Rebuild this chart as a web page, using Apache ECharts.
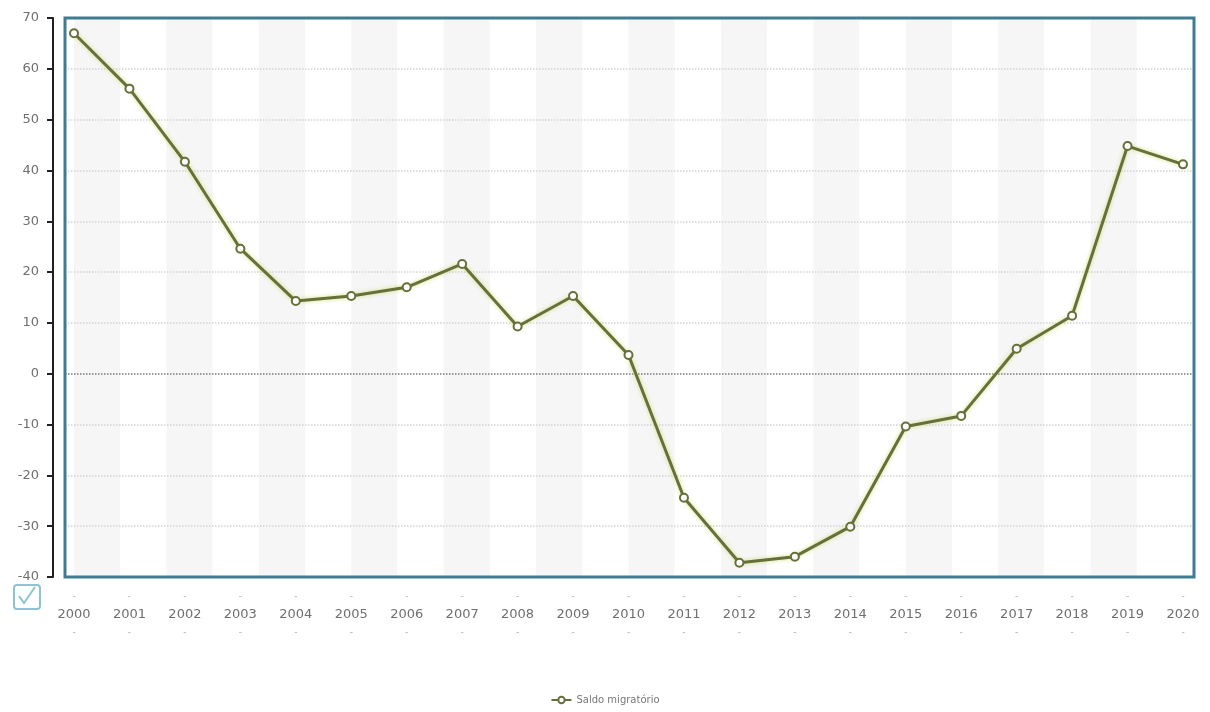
<!DOCTYPE html>
<html>
<head>
<meta charset="utf-8">
<script src="https://cdn.jsdelivr.net/npm/echarts@6/dist/echarts.min.js"></script>
<style>
  html, body { margin: 0; padding: 0; background: #fff; }
  #chart { width: 1210px; height: 712px; }
</style>
</head>
<body>
<div id="chart"></div>
<script>
// dados
const anos = ["2000", "2001", "2002", "2003", "2004", "2005", "2006", "2007", "2008", "2009", "2010",
  "2011", "2012", "2013", "2014", "2015", "2016", "2017", "2018", "2019", "2020"];
const saldoMigratorio = [67.0, 56.1, 41.7, 24.6, 14.3, 15.3, 17.0, 21.6, 9.3, 15.3, 3.7,
  -24.4, -37.2, -36.0, -30.1, -10.4, -8.3, 4.9, 11.4, 44.8, 41.2];
const nomeSerie = "Saldo migratório";
const yMin = -40, yMax = 70, yStep = 10;

const chart = echarts.init(document.getElementById("chart"));

// cor das linhas de grade: a do zero é mais escura
const nLinhas = (yMax - yMin) / yStep + 1;
const coresGrade = [];
for (let i = 0; i < nLinhas; i++) {
  coresGrade.push(yMin + i * yStep === 0 ? "#7a7a7a" : "#d4d4d4");
}

const fonte = "DejaVu Sans";

chart.setOption({
  backgroundColor: "#fff",
  animation: false,
  grid: [
    // moldura + eixo y
    { left: 65, right: 16, top: 18, bottom: 135, show: true, borderColor: "#3f7c92", borderWidth: 3, backgroundColor: "transparent", z: 3 },
    // área da série
    { left: 74, right: 27, top: 18, bottom: 135 }
  ],
  xAxis: [
    { gridIndex: 0, type: "category", data: anos, show: false },
    {
      gridIndex: 1, type: "category", data: anos, boundaryGap: false,
      axisLine: { show: false }, axisTick: { show: false }, splitLine: { show: false },
      axisLabel: {
        interval: 0,
        margin: 11,
        formatter: v => "{d|-}\n{y|" + v + "}\n{d|-}",
        rich: {
          y: { color: "#6f6f6f", fontSize: 13, fontFamily: fonte, lineHeight: 18 },
          d: { color: "#aaa", fontSize: 9, fontFamily: fonte, lineHeight: 18 }
        }
      }
    },
    // faixas cinza do fundo
    {
      gridIndex: 1, type: "value", min: 0, max: 24, interval: 1, z: 0,
      axisLine: { show: false }, axisTick: { show: false }, axisLabel: { show: false },
      splitLine: { show: false },
      splitArea: { show: true, areaStyle: { color: ["#f6f6f6", "#ffffff"] } }
    }
  ],
  yAxis: [
    {
      gridIndex: 0, type: "value", min: yMin, max: yMax, interval: yStep, offset: 12, z: 1,
      axisLine: { show: true, lineStyle: { color: "#222", width: 2 } },
      axisTick: { show: true, length: 6, lineStyle: { color: "#222", width: 2 } },
      axisLabel: { color: "#6f6f6f", fontSize: 13, fontFamily: fonte, margin: 14 },
      splitLine: { show: true, lineStyle: { color: coresGrade, type: "dotted", width: 1.5 } }
    },
    { gridIndex: 1, type: "value", min: yMin, max: yMax, interval: yStep, show: false, splitLine: { show: false } }
  ],
  legend: {
    bottom: 2, left: "center",
    itemWidth: 20, itemHeight: 8,
    textStyle: { color: "#777", fontSize: 10, fontFamily: fonte },
    data: [nomeSerie]
  },
  series: [{
    name: nomeSerie,
    type: "line",
    xAxisIndex: 1,
    yAxisIndex: 1,
    data: saldoMigratorio,
    symbol: "emptyCircle",
    symbolSize: 8,
    z: 5,
    lineStyle: { color: "#66703a", width: 3, shadowColor: "rgba(205,220,110,0.9)", shadowBlur: 4 },
    itemStyle: { color: "#66703a", borderColor: "#66703a", borderWidth: 2 }
  }],
  graphic: [
    { type: "rect", left: 13, top: 584, shape: { width: 26, height: 24, r: 3 }, style: { fill: "#fff", stroke: "#8ec3d6", lineWidth: 2 } },
    { type: "polyline", shape: { points: [[19, 596], [24, 603], [35, 587]] }, style: { fill: null, stroke: "#8ec3d6", lineWidth: 2 } }
  ]
});
</script>
</body>
</html>
